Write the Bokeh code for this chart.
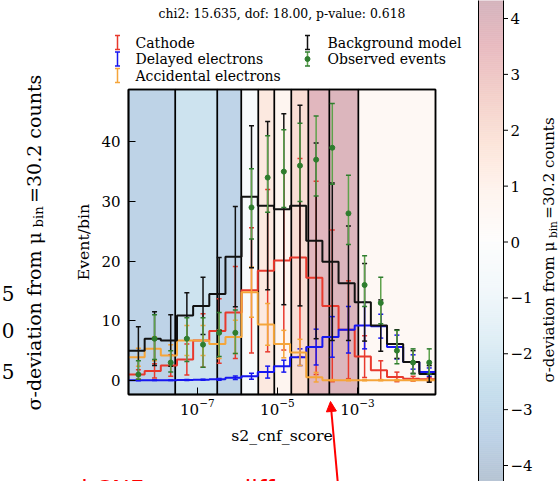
import numpy as np
from bokeh.plotting import figure
from bokeh.models import (Range1d, FixedTicker, LogTickFormatter, LogAxis, LinearAxis,
                          Arrow, NormalHead)
from bokeh.core.properties import value
from bokeh.embed import file_html
from bokeh.resources import INLINE

SERIF = "DejaVu Serif"
SANS = "DejaVu Sans"

# ---------------- data ----------------
# binning of s2_cnf_score (log10 of first / last bin edge), 19 equal log bins
log_edge_first = -8.72
log_edge_last = -1.05
n_bins = 19

cathode = [1.0, 1.6, 2.5, 3.5, 6.7, 8.3, 11.4, 15.1, 18.4, 20.1, 20.6, 17.2, 12.5, 8.5, 4.0, 1.7, 0.6, 0.3, 0.2]
cathode_err = [0.8, 1.2, 1.8, 2.6, 4.5, 5.4, 7.7, 10.5, 13.6, 15.0, 16.6, 16.2, 12.7, 8.2, 3.5, 1.6, 0.8, 0.4, 0.3]

delayed = [0.02, 0.03, 0.05, 0.08, 0.12, 0.2, 0.45, 0.7, 1.4, 2.4, 3.9, 5.6, 7.3, 8.5, 9.2, 9.1, 5.6, 3.1, 1.4]
delayed_err = [0.05, 0.05, 0.05, 0.1, 0.1, 0.15, 0.3, 0.5, 1.0, 1.0, 1.4, 3.0, 3.4, 3.9, 3.9, 2.0, 2.0, 1.2, 0.7]

accidental = [3.9, 5.3, 4.2, 6.7, 6.7, 6.1, 7.3, 14.8, 9.4, 6.1, 4.7, 0.55, 0.05, 0.05, 0.05, 0.05, 0.05, 0.05, 0.05]
accidental_err = [1.5, 2.0, 1.8, 2.5, 2.5, 2.4, 2.8, 4.2, 3.5, 2.3, 2.2, 0.8, 0.1, 0.1, 0.1, 0.1, 0.1, 0.1, 0.1]

background = [5.0, 7.0, 6.7, 10.9, 12.5, 14.5, 20.75, 30.8, 29.3, 28.7, 29.3, 23.4, 19.9, 16.3, 13.1, 9.2, 6.1, 3.1, 1.1]
background_err = [4.0, 4.5, 4.3, 3.8, 4.8, 6.1, 8.4, 11.9, 14.1, 16.0, 16.8, 16.4, 13.2, 9.6, 6.5, 4.3, 2.4, 1.9, 1.4]

observed = [1, 7, 3, 7, 6, 8, 8, 29, 34, 35, 36, 37, 39, 28, 16, 13, 5, 3, 3]
observed_err_hi = [2.3, 4.0, 2.0, 3.5, 4.5, 3.4, 3.8, 6.5, 7.0, 7.0, 7.1, 7.3, 7.4, 6.4, 4.9, 4.3, 3.4, 2.3, 2.3]
observed_err_lo = [0.8, 3.5, 1.6, 3.8, 3.8, 4.0, 3.5, 5.3, 5.8, 6.0, 6.0, 6.1, 6.1, 5.2, 3.6, 3.5, 2.2, 1.9, 1.9]

# sigma-deviation bands (log10 edges) and their deviation
band_edges_log = [-8.72, -7.55, -6.5, -5.9, -5.475, -5.075, -4.65, -4.225, -3.7, -2.975, -1.05]
band_sigma = [-3.4, -2.4, -3.3, -0.4, 1.5, 0.8, 2.0, 3.8, 4.0, 0.5]

colorbar_ticks = [4, 3, 2, 1, 0, -1, -2, -3, -4]
left_cbar_ticklabels = ["5", "0", "5"]
x_ticks = [1e-7, 1e-5, 1e-3]
y_ticks = [0, 10, 20, 30, 40]
y_lo, y_hi = -2.35, 48.76

title_text = "chi2: 15.635, dof: 18.00, p-value: 0.618"
legend_names = ["Cathode", "Delayed electrons", "Accidental electrons", "Background model", "Observed events"]
cbar_label = ["\u03c3-deviation from \u03bc", "bin", " =30.2 counts"]
note_text = "and CNF scores differ"

# ---------------- colormap (RdBu_r, alpha 0.3 on white) ----------------
RDBU_R = ['#053061', '#2166ac', '#4393c3', '#92c5de', '#d1e5f0', '#f7f7f7',
          '#fddbc7', '#f4a582', '#d6604d', '#b2182b', '#67001f']
VMAX = 4.4
ALPHA = 0.3


def _rgb(h):
    return np.array([int(h[i:i + 2], 16) for i in (1, 3, 5)], dtype=float)


def cmap(s):
    t = min(max((s + VMAX) / (2 * VMAX), 0.0), 1.0)
    pos = t * 10
    i = min(int(pos), 9)
    f = pos - i
    c = _rgb(RDBU_R[i]) * (1 - f) + _rgb(RDBU_R[i + 1]) * f
    c = ALPHA * c + (1 - ALPHA) * 255
    return "#%02x%02x%02x" % tuple(int(round(v)) for v in c)


# ---------------- canvas geometry ----------------
W, H = 558, 481
FX0, FX1 = 128, 435          # plot box, px
FY0, FY1 = 89, 394
PPD = (FX1 - FX0) / (log_edge_last - log_edge_first)   # px per decade
PPU = (FY1 - FY0) / (y_hi - y_lo)                      # px per count


def px2x(X):
    return 10 ** (log_edge_first + (X - FX0) / PPD)


def px2y(Y):
    return y_lo + (FY1 - Y) / PPU


edges = np.logspace(log_edge_first, log_edge_last, n_bins + 1)
centres = 0.5 * (edges[:-1] + edges[1:])

p = figure(width=W, height=H, x_axis_type="log",
           x_range=Range1d(px2x(0), px2x(W)), y_range=Range1d(px2y(H), px2y(0)),
           x_axis_location=None, y_axis_location=None, min_border=0, title=None,
           output_backend="svg", toolbar_location=None)
p.outline_line_color = None
p.background_fill_color = "white"
p.border_fill_color = "white"
for g in p.grid:
    g.visible = False
p.xgrid.visible = False
p.ygrid.visible = False

# sigma bands
be = np.array(band_edges_log)
p.quad(left=10 ** be[:-1], right=10 ** be[1:], bottom=y_lo, top=y_hi,
       fill_color=[cmap(s) for s in band_sigma], line_color="black", line_width=1.5)


def draw_series(vals, elo, ehi, color, err_color=None, cap_color=None, step=True, dots=None):
    vals = np.array(vals, dtype=float)
    lo = vals - np.array(elo, dtype=float)
    hi = vals + np.array(ehi, dtype=float)
    if step:
        p.step(edges, list(vals) + [vals[-1]], mode="after", line_color=color, line_width=2)
    p.segment(x0=centres, y0=lo, x1=centres, y1=hi, line_color=err_color or color, line_width=1.5)
    p.scatter(x=np.r_[centres, centres], y=np.r_[lo, hi], marker="dash", size=5,
              line_color=cap_color or color, line_width=1.5)
    if dots is not None:
        p.scatter(x=centres, y=vals, marker="circle", size=5, fill_color=dots, line_color=dots)


RED, BLUE, ORANGE, BLACK = "#e8392d", "#1717f0", "#f5a53a", "#111111"
GREEN_L, GREEN_D = "#5ea24c", "#2e7d2e"

draw_series(cathode, cathode_err, cathode_err, RED)
draw_series(delayed, delayed_err, delayed_err, BLUE)
draw_series(accidental, accidental_err, accidental_err, ORANGE)
draw_series(background, background_err, background_err, BLACK)
draw_series(observed, observed_err_lo, observed_err_hi, GREEN_L, err_color=GREEN_L,
            cap_color=GREEN_D, step=False, dots=GREEN_D)

# plot box
p.quad(left=edges[0], right=edges[-1], bottom=y_lo, top=y_hi, fill_color=None,
       line_color="black", line_width=1.5)

# axes fixed to the plot box
xaxis = LogAxis(fixed_location=y_lo, bounds=(edges[0], edges[-1]),
                ticker=FixedTicker(ticks=x_ticks), formatter=LogTickFormatter(),
                axis_label="s2_cnf_score")
yaxis = LinearAxis(fixed_location=edges[0], bounds=(y_lo, y_hi),
                   ticker=FixedTicker(ticks=y_ticks), axis_label="Event/bin")
for ax in (xaxis, yaxis):
    ax.major_tick_in = 7
    ax.major_tick_out = 0
    ax.minor_tick_line_color = None
    ax.major_tick_line_color = "black"
    ax.axis_line_color = "black"
    ax.axis_line_width = 1.5
    ax.major_label_text_font = SERIF
    ax.major_label_text_font_size = "15px"
    ax.major_label_text_color = "black"
    ax.axis_label_text_font = SERIF
    ax.axis_label_text_font_style = "normal"
    ax.axis_label_text_font_size = "15.7px"
    ax.axis_label_text_color = "black"
xaxis.major_label_standoff = 4
xaxis.axis_label_standoff = 8
yaxis.major_label_standoff = 8
yaxis.axis_label_standoff = 5
p.add_layout(xaxis, "below")
p.add_layout(yaxis, "left")


# ---------------- decorations (placed in canvas px) ----------------
def txt(X, Y, s, size, color="black", align="left", baseline="middle", angle=0.0, font=SERIF):
    p.text(x=[px2x(X)], y=[px2y(Y)], text=[s], angle=angle, text_font=value(font),
           text_font_size=value(f"{size}px"), text_color=color, text_align=align,
           text_baseline=baseline)


def errbar_handle(X, Yc, color, cap_color=None, dot=None, half=7):
    p.segment(x0=[px2x(X)], y0=[px2y(Yc + half)], x1=[px2x(X)], y1=[px2y(Yc - half)],
              line_color=color, line_width=1.5)
    p.scatter(x=[px2x(X), px2x(X)], y=[px2y(Yc + half), px2y(Yc - half)], marker="dash",
              size=5, line_color=cap_color or color, line_width=1.5)
    if dot:
        p.scatter(x=[px2x(X)], y=[px2y(Yc)], marker="circle", size=5, fill_color=dot, line_color=dot)


# title
txt(281.5, 13, title_text, 12.4, align="center")

# legend
leg_style = [(RED, None, None), (BLUE, None, None), (ORANGE, None, None),
             (BLACK, None, None), (GREEN_L, GREEN_D, GREEN_D)]
leg_pos = [(117, 135, 42), (117, 135, 58.5), (117, 135, 75), (307, 327, 42), (307, 327, 58.5)]
for name, (col, capc, dot), (mx, tx, yy) in zip(legend_names, leg_style, leg_pos):
    errbar_handle(mx, yy, col, capc, dot)
    txt(tx, yy, name, 14)

# colorbar on the right
CB_L, CB_R = 478, 503
Y0_SIG, PX_PER_SIG = 241.5, 55.875
strip_top = np.arange(0, 484, 2.0)
strip_col = [cmap((Y0_SIG - (Y + 1.0)) / PX_PER_SIG) for Y in strip_top]
p.quad(left=px2x(CB_L), right=px2x(CB_R), top=px2y(strip_top), bottom=px2y(strip_top + 2.0),
       fill_color=strip_col, line_color=strip_col, line_width=0.6)
p.segment(x0=[px2x(CB_L), px2x(CB_R)], y0=[px2y(-5), px2y(-5)], x1=[px2x(CB_L), px2x(CB_R)],
          y1=[px2y(490), px2y(490)], line_color="black", line_width=1)
tick_Y = np.array([Y0_SIG - t * PX_PER_SIG for t in colorbar_ticks])
p.segment(x0=px2x(CB_R), y0=px2y(tick_Y), x1=px2x(CB_R + 4.5), y1=px2y(tick_Y),
          line_color="black", line_width=1)
for t, Yt in zip(colorbar_ticks, tick_Y):
    s = str(t) if t >= 0 else "\u2212" + str(-t)
    txt(510, Yt, s, 15)


def sigma_label(Xc, Ybottom, size, sub_shift):
    w1 = 9.63 * size
    w2 = 1.85 * size * 0.7
    txt(Xc, Ybottom, cbar_label[0], size, angle=np.pi / 2)
    txt(Xc + sub_shift, Ybottom - w1, cbar_label[1], size * 0.7, angle=np.pi / 2)
    txt(Xc, Ybottom - w1 - w2, cbar_label[2], size, angle=np.pi / 2)


sigma_label(548, 382, 15, 4)
sigma_label(33, 410, 19, 5)

# tick labels of the cut-off colorbar on the left
for s, Yt in zip(left_cbar_ticklabels, [293, 330, 371]):
    txt(14, Yt, s, 20, align="right")

# red note (only its top shows at the canvas edge) and arrow
txt(42, 475, note_text, 24, color="red", baseline="top", font=SANS)
p.add_layout(Arrow(x_start=px2x(338), y_start=px2y(490), x_end=px2x(330), y_end=px2y(401),
                   line_color="red", line_width=2,
                   end=NormalHead(size=10, fill_color="red", line_color="red")))

open("out.html", "w").write(file_html(p, INLINE))
